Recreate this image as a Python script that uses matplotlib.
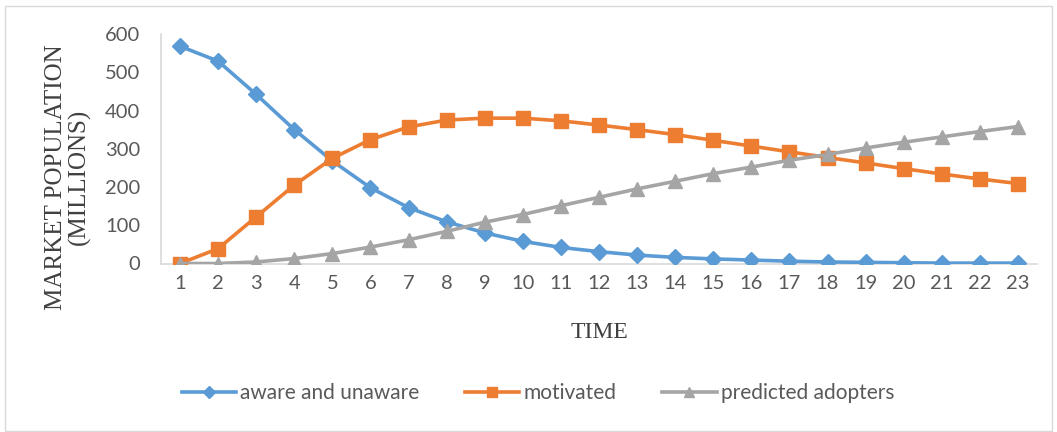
import numpy as np
import matplotlib
matplotlib.use("Agg")
import matplotlib.pyplot as plt
from matplotlib.patches import Rectangle

# time periods on the category axis
periods = list(range(1, 24))

# market population (millions) per period
aware_unaware = [568, 529, 442, 350, 268, 198, 146, 109, 80, 58, 42, 31,
                 22, 16, 12, 9, 6, 4, 3, 2, 1, 1, 1]
motivated = [0, 39, 122, 205, 275, 324, 357, 375, 380, 380, 373, 362,
             350, 337, 322, 307, 292, 277, 263, 248, 234, 221, 209]
predicted_adopters = [0, 0, 4, 13, 26, 43, 62, 84, 108, 128, 151, 173,
                      195, 215, 235, 252, 270, 285, 302, 317, 331, 345, 358]

series_names = ["aware and unaware", "motivated", "predicted adopters"]
yticks = [0, 100, 200, 300, 400, 500, 600]

fig = plt.figure(figsize=(10.57, 4.32), dpi=100)
ax = fig.add_axes([161 / 1057, 1 - 263.5 / 432, (1037 - 161) / 1057, (263.5 - 34) / 432])

ax.plot(periods, aware_unaware, color="#5B9BD5", lw=2.6, marker="D", ms=8,
        label=series_names[0], zorder=3)
ax.plot(periods, motivated, color="#ED7D31", lw=2.6, marker="s", ms=9.5,
        label=series_names[1], zorder=4)
ax.plot(periods, predicted_adopters, color="#A5A5A5", lw=2.6, marker="^", ms=10,
        label=series_names[2], zorder=5)

ax.set_xlim(0.5, 23.5)
ax.set_ylim(0, 600)
ax.set_xticks(periods)
ax.set_yticks(yticks)
ax.tick_params(axis="both", length=0, labelsize=14.5, labelcolor="#595959")
ax.tick_params(axis="x", pad=8)
ax.tick_params(axis="y", pad=15)
for lab in ax.get_xticklabels() + ax.get_yticklabels():
    lab.set_family("Lato")

for side in ["top", "right"]:
    ax.spines[side].set_visible(False)
for side in ["left", "bottom"]:
    ax.spines[side].set_color("#D9D9D9")
    ax.spines[side].set_linewidth(1.2)

ax.set_xlabel("TIME", family="Liberation Serif", fontsize=17, color="#404040",
              labelpad=22)
fig.text(68 / 1057, 1 - 177 / 432, "MARKET POPULATION\n(MILLIONS)",
         family="Liberation Serif", fontsize=18, color="#404040",
         rotation=90, ha="center", va="center", linespacing=1.0)

# legend handles with smaller markers than the plotted series
leg = fig.legend(loc="center", bbox_to_anchor=(538 / 1057, 1 - 393 / 432),
                 ncol=3, frameon=False, handlelength=2.6, columnspacing=2.2,
                 handletextpad=0.2, markerscale=0.75,
                 prop={"family": "Lato", "size": 15})
for t in leg.get_texts():
    t.set_color("#595959")

# light chart-area border
fig.patches.append(Rectangle((5 / 1057, 0.002), 1 - 10 / 1057, 1 - 7 / 432,
                             transform=fig.transFigure, fill=False,
                             edgecolor="#D9D9D9", lw=1))

fig.savefig("out.png", dpi=100)
